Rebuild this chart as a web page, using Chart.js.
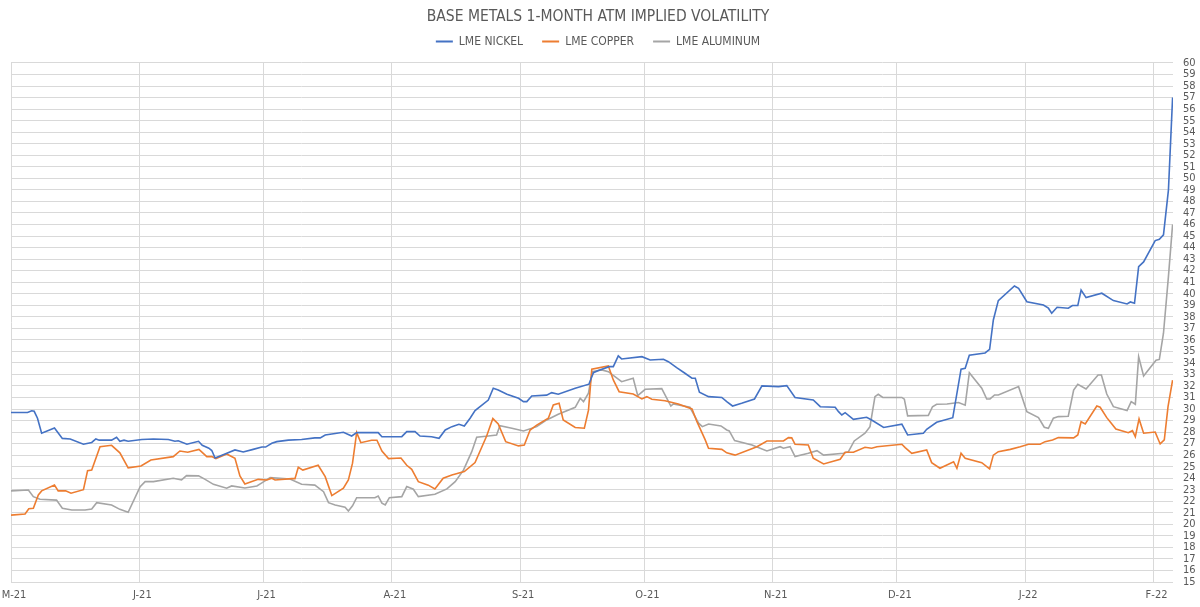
<!DOCTYPE html>
<html><head><meta charset="utf-8">
<script src="https://cdn.jsdelivr.net/npm/chart.js@4/dist/chart.umd.min.js"></script>
<style>html,body{margin:0;padding:0;background:#fff;}#wrap{width:1200px;height:607px;}</style>
</head><body><div id="wrap"><canvas id="c" width="1200" height="607"></canvas></div>
<script>
// x positions are days since 1 May 2021
const monthDays = [0,31,61,92,123,153,184,214,245,276];
const monthLabels = ['M-21','J-21','J-21','A-21','S-21','O-21','N-21','D-21','J-22','F-22'];
const seriesNames = ['LME NICKEL','LME COPPER','LME ALUMINUM'];

const nickelDays = [0,4,5,5.6,6.4,7.4,10.5,12.4,14.3,17.5,19.5,20.5,21.3,24.3,25.5,26.3,27.3,28.3,31.6,34.4,38,39.6,40.4,42.5,45.3,46.2,47.8,48.5,49.3,51.7,54.1,56.1,58.5,60.6,61.5,63,64.2,67,70.2,73.4,74.7,75.9,80.3,82.3,83.5,87.9,88.7,89.6,94.4,95.6,97.6,98.8,101.6,103.4,104.9,106.5,108.2,109.5,110.9,112.1,115.3,116.5,117.7,119.8,122.6,123.8,124.6,125.8,129.4,130.6,132.2,136.3,139.6,140.7,141.9,144.5,145.5,146.7,147.5,152.4,154.4,157.6,158.8,160.8,162.8,164.5,165.3,166.3,168.5,171.7,172.9,174.3,176.5,179.6,181.4,185.4,187.4,189.4,193.8,195.5,199.1,199.9,200.7,201.5,203.5,206.7,207.9,210.8,215.2,216.6,220.4,221.2,223.6,227.5,229.5,230.5,231.5,235.3,236.4,237.3,238.5,242.4,243.4,245.4,249.4,250.6,251.4,252.7,255.4,256.4,257.7,258.5,259.7,263.5,266.3,269.6,270.4,271.4,272.4,273.6,276.4,277.4,278.4,279.6,280.6];
const nickelVals = [29.7,29.7,29.85,29.8,29.2,27.9,28.35,27.45,27.4,26.95,27.1,27.4,27.3,27.3,27.55,27.2,27.3,27.2,27.35,27.4,27.35,27.2,27.25,26.95,27.2,26.85,26.6,26.4,25.75,26.1,26.45,26.27,26.5,26.7,26.7,27.03,27.17,27.3,27.35,27.5,27.5,27.75,27.98,27.66,27.95,27.95,27.95,27.6,27.6,28.04,28.04,27.66,27.6,27.46,28.18,28.47,28.68,28.53,29.2,29.86,30.78,31.8,31.65,31.28,30.93,30.64,30.64,31.13,31.2,31.42,31.28,31.8,32.15,33.15,33.33,33.67,33.67,34.6,34.34,34.54,34.25,34.31,34.1,33.58,33.1,32.67,32.67,31.45,31.07,31.0,30.64,30.26,30.5,30.87,32.0,31.94,32.03,31.0,30.78,30.2,30.15,29.77,29.48,29.68,29.1,29.28,29.05,28.4,28.68,27.75,27.9,28.24,28.85,29.25,33.45,33.53,34.66,34.86,35.18,37.72,39.4,40.67,40.47,39.3,39.02,38.74,38.3,38.82,38.74,38.97,38.97,40.32,39.66,40.04,39.4,39.11,39.28,39.17,42.35,42.75,44.6,44.72,45.1,49.0,57.0];

const copperDays = [0,3.4,4.3,5.4,6.6,7.4,10.5,11.4,13.2,14.5,17.5,18.5,19.5,21.5,24.3,26.3,28.3,31.4,33.8,39.2,40.8,42.7,45.4,47.3,48.5,49.5,52.1,54.1,55.3,56.5,59.7,61.8,63,63.8,67.8,68.6,69.4,70.5,74.2,75.9,77.5,80.3,81.5,82.5,83.5,84.5,87.1,88.4,89.6,91.2,94.2,95.6,96.8,98.4,100.8,102.4,104.4,106.5,109.5,112.1,114.9,116.4,117.7,119.5,122.6,124,125.4,127,129.8,131,132.4,133.4,136.3,138.5,139.5,140.3,144.3,145.5,146.9,150.3,152.4,153.6,154.8,158,161.2,164.5,165.7,167.7,168.5,171.7,172.9,174.9,180.2,182.6,186.6,187.8,188.6,189.4,192.6,193.8,196.3,200.3,201.5,203.5,206.3,207.9,209.2,215.2,216,217.6,221.2,222.4,224.4,227.7,228.5,229.5,230.5,234.5,236.4,237.3,238.5,241.4,243.8,245.8,248.6,249.8,251.6,253,256.7,257.7,258.5,259.5,262.3,263.1,264.7,265.5,266.9,269.9,270.9,271.6,272.5,273.6,276.4,277.6,278.6,279.5,280.6];
const copperVals = [20.8,20.9,21.35,21.4,22.55,22.9,23.4,22.9,22.9,22.7,23.0,24.65,24.7,26.73,26.85,26.2,24.9,25.06,25.58,25.87,26.36,26.25,26.5,25.87,25.87,25.7,26.1,25.73,24.2,23.5,23.9,23.85,24.0,23.85,23.96,23.96,24.95,24.7,25.12,24.13,22.49,23.13,23.85,25.3,27.95,27.08,27.29,27.29,26.36,25.7,25.75,25.12,24.77,23.7,23.4,23.07,24.0,24.28,24.57,25.35,27.66,29.17,28.7,27.17,26.8,26.88,28.18,28.6,29.2,30.35,30.5,29.05,28.4,28.33,29.9,33.45,33.73,32.52,31.5,31.3,30.87,31.07,30.85,30.72,30.44,30.0,28.9,27.32,26.6,26.5,26.2,26.0,26.73,27.23,27.23,27.52,27.5,26.94,26.88,25.73,25.23,25.64,26.25,26.25,26.68,26.6,26.73,26.94,26.65,26.16,26.45,25.35,24.86,25.43,24.86,26.16,25.73,25.35,24.8,26.0,26.3,26.5,26.73,26.94,26.94,27.17,27.32,27.52,27.5,27.75,28.9,28.7,30.26,30.15,29.25,28.9,28.27,27.95,28.12,27.6,29.14,27.9,28.0,26.97,27.32,30.2,32.5];

const aluminumDays = [0,4.2,5.4,7,11,12.4,14.7,17.9,19.5,20.7,24.3,26.3,28.3,31.2,32.4,34.4,39.2,41.2,42.4,45.3,46.9,48.9,52.1,53.3,56.5,59.4,60.6,62.6,67.4,70.2,73.4,75.5,76.7,78.3,80.7,81.5,82.5,83.5,87.9,88.7,89.6,90.4,91.4,94.4,95.6,97.2,98.4,102.4,105.3,107.3,109.3,111.3,112.5,115.3,117.3,118.1,121,123.8,127,129.4,132.2,136.3,137.5,138.3,139.5,140.4,142.7,144.3,147.5,150.3,151.4,153.2,157.2,159.4,160,164,166.1,167,168.5,171.5,172.9,173.5,174.8,179,182.6,185.8,186.6,188.2,189.4,192.6,194.7,196.3,201.1,202.3,203.7,206.3,207.5,208.7,209.5,210.6,215.2,215.8,216.6,221.6,222.6,223.6,226.1,228.9,230.5,231.5,234.5,235.7,236.5,237.6,238.5,243.4,245.4,248.2,249.6,250.6,251.8,253,255.4,256.7,257.7,259.7,262.6,263.4,264.7,266.3,269.6,270.6,271.6,272.4,273.6,276.6,277.4,278.4,279.6,280.6];
const aluminumVals = [22.9,22.98,22.4,22.17,22.1,21.39,21.24,21.24,21.33,21.88,21.68,21.3,21.05,23.27,23.7,23.7,24.0,23.85,24.22,24.2,23.9,23.47,23.13,23.33,23.15,23.33,23.6,24.05,23.93,23.47,23.4,22.83,21.88,21.68,21.48,21.16,21.6,22.31,22.31,22.46,21.83,21.68,22.31,22.4,23.27,23.04,22.4,22.6,23.07,23.7,24.7,26.3,27.55,27.66,27.75,28.56,28.33,28.1,28.47,29.05,29.54,30.15,30.93,30.64,31.37,33.24,33.39,33.24,32.37,32.67,31.16,31.71,31.77,30.26,30.44,30.15,28.77,28.47,28.7,28.53,28.18,28.1,27.26,26.88,26.36,26.73,26.6,26.73,25.87,26.16,26.39,26.0,26.16,26.3,27.23,27.9,28.47,31.07,31.28,31.0,31.0,30.85,29.4,29.45,30.2,30.41,30.44,30.56,30.33,33.15,31.8,30.87,30.87,31.22,31.22,31.94,29.77,29.25,28.42,28.33,29.2,29.34,29.37,31.65,32.15,31.74,32.95,32.95,31.3,30.2,29.86,30.64,30.41,34.54,32.87,34.23,34.3,36.57,41.5,46.0];

const FONT = "'Liberation Sans Narrow', 'DejaVu Sans Condensed', 'Liberation Sans', sans-serif";
const TEXT = '#595959';
const GRID = '#d9d9d9';

function pts(days, vals) { return days.map((d, i) => ({x: d, y: vals[i]})); }

const spacer = {
  id: 'legendSpacer',
  beforeInit(chart) {
    const box = {
      position: 'top', weight: 100, fullSize: true, options: {},
      top: 0, left: 0, right: 0, bottom: 0, width: 0, height: 0,
      isHorizontal() { return true; },
      update(maxWidth) { this.width = maxWidth; this.height = 5.4; },
      draw() {}
    };
    Chart.layouts.addBox(chart, box);
  }
};

new Chart(document.getElementById('c'), {
  type: 'line',
  data: {
    datasets: [
      {label: seriesNames[0], data: pts(nickelDays, nickelVals), borderColor: '#4472C4', backgroundColor: '#4472C4'},
      {label: seriesNames[1], data: pts(copperDays, copperVals), borderColor: '#ED7D31', backgroundColor: '#ED7D31'},
      {label: seriesNames[2], data: pts(aluminumDays, aluminumVals), borderColor: '#A5A5A5', backgroundColor: '#A5A5A5'}
    ]
  },
  options: {
    responsive: false,
    animation: false,
    devicePixelRatio: 1,
    parsing: false,
    elements: {point: {radius: 0}, line: {borderWidth: 1.6, tension: 0}},
    layout: {padding: {top: 0, right: 4, bottom: 4, left: 0}},
    plugins: {
      title: {display: true, text: 'BASE METALS 1-MONTH ATM IMPLIED VOLATILITY', color: TEXT,
        font: {family: FONT, size: 15.5, weight: 'normal'}, padding: {top: 8, bottom: -10}},
      legend: {display: true, position: 'top',
        labels: {color: TEXT, font: {family: FONT, size: 12}, boxWidth: 17, boxHeight: 2, padding: 19,
          generateLabels(chart) {
            const items = Chart.defaults.plugins.legend.labels.generateLabels(chart);
            items.forEach(it => { it.lineWidth = 0; });
            return items;
          }}},
      tooltip: {enabled: false}
    },
    scales: {
      x: {type: 'linear', position: 'bottom', min: 0, max: 280.7,
        afterBuildTicks(scale) { scale.ticks = monthDays.map(v => ({value: v})); },
        afterFit(scale) { scale.height = 21; scale.paddingLeft = 11; scale.paddingRight = 0; },
        ticks: {autoSkip: false, maxRotation: 0, padding: 7, labelOffset: 3, color: TEXT, font: {family: FONT, size: 11},
          callback(value, index) { return monthLabels[index]; }},
        grid: {color: GRID, drawTicks: false, lineWidth: 1},
        border: {display: false}},
      y: {position: 'right', min: 15, max: 60,
        afterFit(scale) { scale.width = 23; },
        ticks: {stepSize: 1, autoSkip: false, padding: 10, color: TEXT, font: {family: FONT, size: 11}},
        grid: {color: GRID, drawTicks: false, lineWidth: 1},
        border: {display: false}}
    }
  },
  plugins: [spacer]
});
</script></body></html>
